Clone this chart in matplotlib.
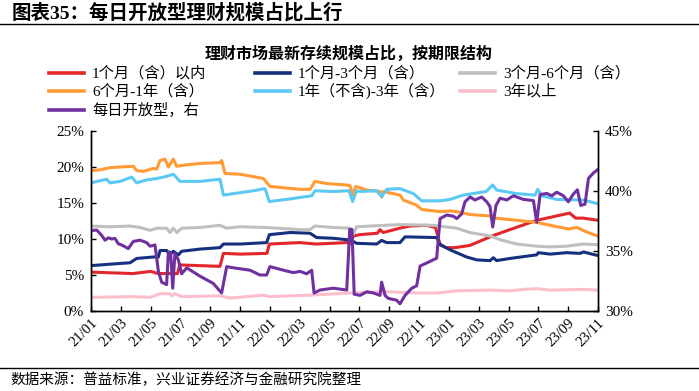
#!/usr/bin/env python3
"""Redraw the chart: share of wealth-management products by maturity bucket."""

import matplotlib

matplotlib.use("Agg")
import matplotlib.pyplot as plt
from matplotlib.lines import Line2D

MIXED = ["Liberation Serif", "Noto Sans CJK SC"]
plt.rcParams["font.family"] = MIXED

# x values are months since 2021/01
tick_months = list(range(0, 35, 2))
tick_labels = ["21/01", "21/03", "21/05", "21/07", "21/09", "21/11",
               "22/01", "22/03", "22/05", "22/07", "22/09", "22/11",
               "23/01", "23/03", "23/05", "23/07", "23/09", "23/11"]

red_m = [0, 2.8, 4.0, 4.5, 5.8, 5.95, 8.65, 8.88, 10.0, 11.8, 11.96, 14.0, 15.1, 17.15, 17.37, 17.6,
         18.0, 19.2, 19.38, 19.6, 20.7, 21.4, 22.5, 23.1, 23.4, 23.8, 24.4, 25.4, 27.0, 28.5, 29.9,
         31.0, 32.1, 32.5, 33.0, 34.0]
red_v = [5.4, 5.2, 5.5, 5.2, 5.2, 6.4, 6.2, 8.0, 7.9, 8.0, 9.3, 9.5, 9.3, 9.5, 9.4, 10.4,
         10.6, 10.8, 11.3, 10.9, 11.5, 11.8, 11.9, 11.6, 9.3, 8.8, 8.8, 9.1, 10.5, 11.6, 12.6,
         13.1, 13.6, 12.9, 12.9, 12.6]

navy_m = [0, 1.27, 2.62, 3.06, 4.18, 4.52, 4.63, 5.07, 5.3, 5.52, 5.86, 6.08, 7.31, 8.65, 8.88,
          10.0, 11.78, 11.96, 13.35, 14.69, 15.13, 16.25, 17.15, 17.37, 17.82, 19.16, 19.49, 19.83,
          20.72, 21.06, 23.18, 23.41, 24.08, 25.19, 25.87, 26.76, 26.98, 27.2, 28.1, 29.89, 30.0,
          30.79, 31.9, 32.8, 33.02, 34.0]
navy_v = [6.3, 6.5, 6.7, 7.3, 7.5, 7.5, 8.4, 8.4, 7.8, 8.3, 7.8, 8.3, 8.6, 8.8, 9.3,
          9.3, 9.5, 10.6, 10.9, 10.8, 10.2, 10.1, 9.9, 9.9, 9.4, 9.3, 9.8, 9.5,
          9.5, 10.3, 10.2, 9.2, 8.5, 7.5, 7.1, 7.0, 7.4, 7.0, 7.3, 7.8, 8.1,
          7.9, 8.1, 8.0, 8.2, 7.7]

gray_m = [0, 1.27, 2.62, 3.29, 3.96, 4.4, 5.07, 5.3, 5.52, 5.75, 6.08, 7.31, 8.65, 9.1, 10.0,
          11.78, 14.02, 14.69, 15.02, 16.25, 17.37, 17.55, 17.82, 18.71, 20.72, 22.95, 24.53,
          25.4, 26.8, 27.43, 28.55, 29.89, 30.79, 31.9, 33.02, 34.0]
gray_v = [11.8, 11.7, 11.8, 11.6, 11.2, 11.5, 11.5, 10.9, 11.5, 10.9, 11.5, 11.6, 11.9, 11.5, 11.7,
          11.6, 11.3, 11.3, 11.8, 11.6, 11.5, 10.5, 11.7, 11.8, 12.0, 11.9, 11.5,
          10.9, 10.4, 9.9, 9.3, 9.0, 8.9, 9.0, 9.3, 9.2]

orange_m = [0, 0.6, 1.27, 1.95, 2.84, 3.06, 3.51, 4.18, 4.4, 4.63, 4.96, 5.19, 5.52, 5.75, 6.42,
            7.31, 8.65, 8.76, 8.99, 10.0, 11.56, 12.0, 14.02, 14.69, 15.02, 15.81, 17.15, 17.37,
            17.55, 17.75, 18.49, 19.4, 19.5, 19.61, 20.72, 20.95, 21.84, 22.18, 23.41, 24.08,
            24.53, 25.4, 26.8, 27.1, 28.55, 29.9, 30.8, 32.0, 32.6, 33.2, 34.0]
orange_v = [19.5, 19.6, 19.9, 20.0, 20.1, 19.5, 19.4, 19.8, 19.7, 20.9, 21.1, 20.0, 21.1, 20.1, 20.3,
            20.5, 20.6, 20.9, 19.1, 19.0, 18.4, 17.3, 16.9, 16.9, 18.0, 17.7, 17.5, 17.4,
            16.1, 17.3, 16.8, 16.6, 15.8, 16.6, 16.1, 15.4, 14.7, 14.1, 13.8, 13.9,
            13.8, 13.4, 13.2, 12.9, 12.6, 12.3, 11.9, 11.4, 11.6, 11.0, 10.4]

cyan_m = [0, 0.83, 1.05, 1.27, 1.95, 2.73, 3.06, 3.73, 4.4, 5.07, 5.52, 5.97, 7.31, 8.65, 8.88,
          9.55, 10.89, 11.67, 11.96, 13.12, 14.46, 14.8, 15.02, 16.25, 17.3, 17.55, 17.8, 18.04,
          19.16, 19.49, 19.83, 20.72, 21.62, 22.18, 23.41, 24.08, 24.97, 26.5, 26.94, 27.2,
          28.55, 29.78, 29.96, 30.23, 31.23, 33.02, 34.0]
cyan_v = [17.8, 18.2, 18.3, 17.8, 18.0, 18.6, 17.8, 18.2, 18.4, 18.7, 19.0, 18.0, 18.0, 18.3, 16.1,
          16.3, 16.7, 17.0, 15.2, 15.5, 15.9, 16.0, 16.7, 16.6, 16.7, 15.2, 16.7, 16.6,
          16.7, 15.9, 16.9, 17.0, 16.3, 15.3, 15.3, 15.5, 16.1, 16.6, 17.5, 16.8,
          16.3, 16.1, 16.9, 16.0, 15.5, 15.4, 14.9]

pink_m = [0, 2.84, 3.96, 4.63, 5.3, 5.41, 5.63, 6.08, 8.65, 9.32, 11.56, 11.96, 14.69, 17.37,
          19.6, 20.72, 21.84, 23.18, 24.53, 26.76, 28.1, 29.0, 29.89, 30.79, 33.02, 34.0]
pink_v = [1.9, 2.0, 1.9, 2.4, 2.4, 2.1, 2.4, 2.0, 2.1, 1.8, 2.2, 2.0, 2.2, 2.5,
          2.7, 2.6, 2.5, 2.5, 2.8, 2.9, 2.8, 3.0, 3.1, 2.9, 3.0, 2.9]

# daily-open products, right axis
purple_m = [0, 0.38, 0.72, 0.94, 1.16, 1.39, 1.61, 1.83, 2.06, 2.5,
            2.84, 3.29, 3.73, 3.96, 4.29, 4.52, 4.74, 5.07, 5.19, 5.34,
            5.48, 5.63, 5.86, 6.08, 6.42, 7.31, 8.2, 8.76, 9.1, 9.55,
            10.66, 11.33, 11.78, 12.0, 12.9, 13.57, 14.02, 14.46, 14.8, 14.96,
            15.36, 16.25, 17.15, 17.35, 17.5, 17.65, 18.04, 18.49, 18.94, 19.38,
            19.49, 19.72, 19.94, 20.5, 20.72, 21.06, 21.51, 21.84, 22.07, 22.51,
            23.18, 23.41, 23.85, 24.3, 24.53, 24.86, 25.08, 25.42, 25.75, 26.2,
            26.54, 26.76, 26.94, 27.16, 27.43, 27.88, 28.32, 28.99, 29.67, 29.89,
            30.12, 30.56, 30.9, 31.23, 31.68, 32.01, 32.35, 32.62, 32.84, 33.13,
            33.36, 33.69, 34.0]
purple_v = [36.7, 36.75, 36.3, 35.9, 36.1, 36.0, 36.05, 35.6, 35.5, 35.2,
            35.8, 35.9, 35.7, 35.4, 35.5, 33.3, 32.4, 32.2, 34.9, 34.9,
            31.9, 34.8, 34.25, 33.1, 33.6, 32.9, 32.3, 31.5, 33.7, 33.6,
            33.4, 33.0, 33.0, 33.7, 33.4, 33.2, 33.3, 33.1, 33.4, 31.5,
            31.75, 31.9, 31.75, 36.8, 36.8, 31.4, 31.3, 31.6, 31.5, 31.3,
            32.4, 31.3, 31.05, 30.9, 30.6, 31.3, 31.9, 32.1, 33.75, 34.0,
            34.4, 37.7, 38.0, 37.9, 37.7, 38.1, 39.1, 39.5, 39.25, 39.5,
            39.1, 38.7, 37.0, 38.8, 39.4, 39.25, 39.6, 39.3, 39.2, 37.4,
            39.7, 39.8, 39.6, 39.9, 39.6, 39.1, 39.75, 40.1, 38.8, 38.9,
            41.05, 41.5, 41.8]

left_series = [
    ("1个月（含）以内", red_m, red_v, "#E3262B"),
    ("1个月-3个月（含）", navy_m, navy_v, "#14307F"),
    ("3个月-6个月（含）", gray_m, gray_v, "#BFBFBF"),
    ("6个月-1年（含）", orange_m, orange_v, "#FF9A35"),
    ("1年（不含)-3年（含）", cyan_m, cyan_v, "#5BC9F4"),
    ("3年以上", pink_m, pink_v, "#FBBFCB"),
]
purple_label = "每日开放型，右"
purple_color = "#7030A0"

W, H = 699, 391


def fx(px):
    return px / W


def fy(py):
    return 1 - py / H


def render(path="out.png"):
    fig = plt.figure(figsize=(W / 100, H / 100), dpi=100)

    # header band
    fig.text(fx(12), fy(13), "图表35：每日开放型理财规模占比上行", fontsize=14,
             fontweight="bold", ha="left", va="center", family=MIXED)
    fig.add_artist(Line2D([0, 1], [fy(23.5), fy(23.5)], color="black", lw=1.0))

    fig.text(fx(349), fy(55), "理财市场最新存续规模占比，按期限结构", fontsize=11.5,
             fontweight="bold", ha="center", va="center", family=MIXED)

    ax = fig.add_axes([fx(91), fy(311), fx(598) - fx(91), fy(131) - fy(311)])
    ax2 = ax.twinx()

    for label, m, v, color in left_series:
        ax.plot(m, v, color=color, lw=2.2, solid_joinstyle="round")
    ax2.plot(purple_m, purple_v, color=purple_color, lw=2.2, solid_joinstyle="round")

    ax.set_xlim(0, 34)
    ax.set_ylim(0, 25)
    ax2.set_ylim(30, 45)
    ax.set_yticks([0, 5, 10, 15, 20, 25])
    ax.set_yticklabels([f"{t}%" for t in [0, 5, 10, 15, 20, 25]])
    ax2.set_yticks([30, 35, 40, 45])
    ax2.set_yticklabels([f"{t}%" for t in [30, 35, 40, 45]])
    ax.set_xticks(tick_months)
    ax.set_xticklabels(tick_labels, rotation=45, ha="right", va="top", rotation_mode="anchor")

    for a in (ax, ax2):
        a.spines["top"].set_visible(False)
        for s in ("left", "right", "bottom"):
            a.spines[s].set_linewidth(1.0)
        a.tick_params(direction="in", length=3.5, width=1.0, labelsize=11, pad=5)
    ax.tick_params(axis="x", labelsize=10.5, pad=4)

    # legend, drawn by hand so the three columns line up like the original
    legend_rows = [
        [(left_series[0][0], left_series[0][3]), (left_series[1][0], left_series[1][3]),
         (left_series[2][0], left_series[2][3])],
        [(left_series[3][0], left_series[3][3]), (left_series[4][0], left_series[4][3]),
         (left_series[5][0], left_series[5][3])],
        [(purple_label, purple_color)],
    ]
    col_x = [49, 255, 460]
    row_y = [73, 91, 110]
    for r, row in enumerate(legend_rows):
        for c, (label, color) in enumerate(row):
            x0 = col_x[c]
            y = fy(row_y[r])
            fig.add_artist(Line2D([fx(x0), fx(x0 + 35)], [y, y], color=color, lw=2.6))
            fig.text(fx(x0 + 43), y, label, fontsize=11, ha="left", va="center", family=MIXED)

    # footer
    fig.add_artist(Line2D([0, 1], [fy(368), fy(368)], color="black", lw=1.0))
    fig.text(fx(10), fy(380), "数据来源：普益标准，兴业证券经济与金融研究院整理", fontsize=10.5,
             ha="left", va="center", family=MIXED)

    fig.savefig(path, dpi=100)
    plt.close(fig)


if __name__ == "__main__":
    render()
